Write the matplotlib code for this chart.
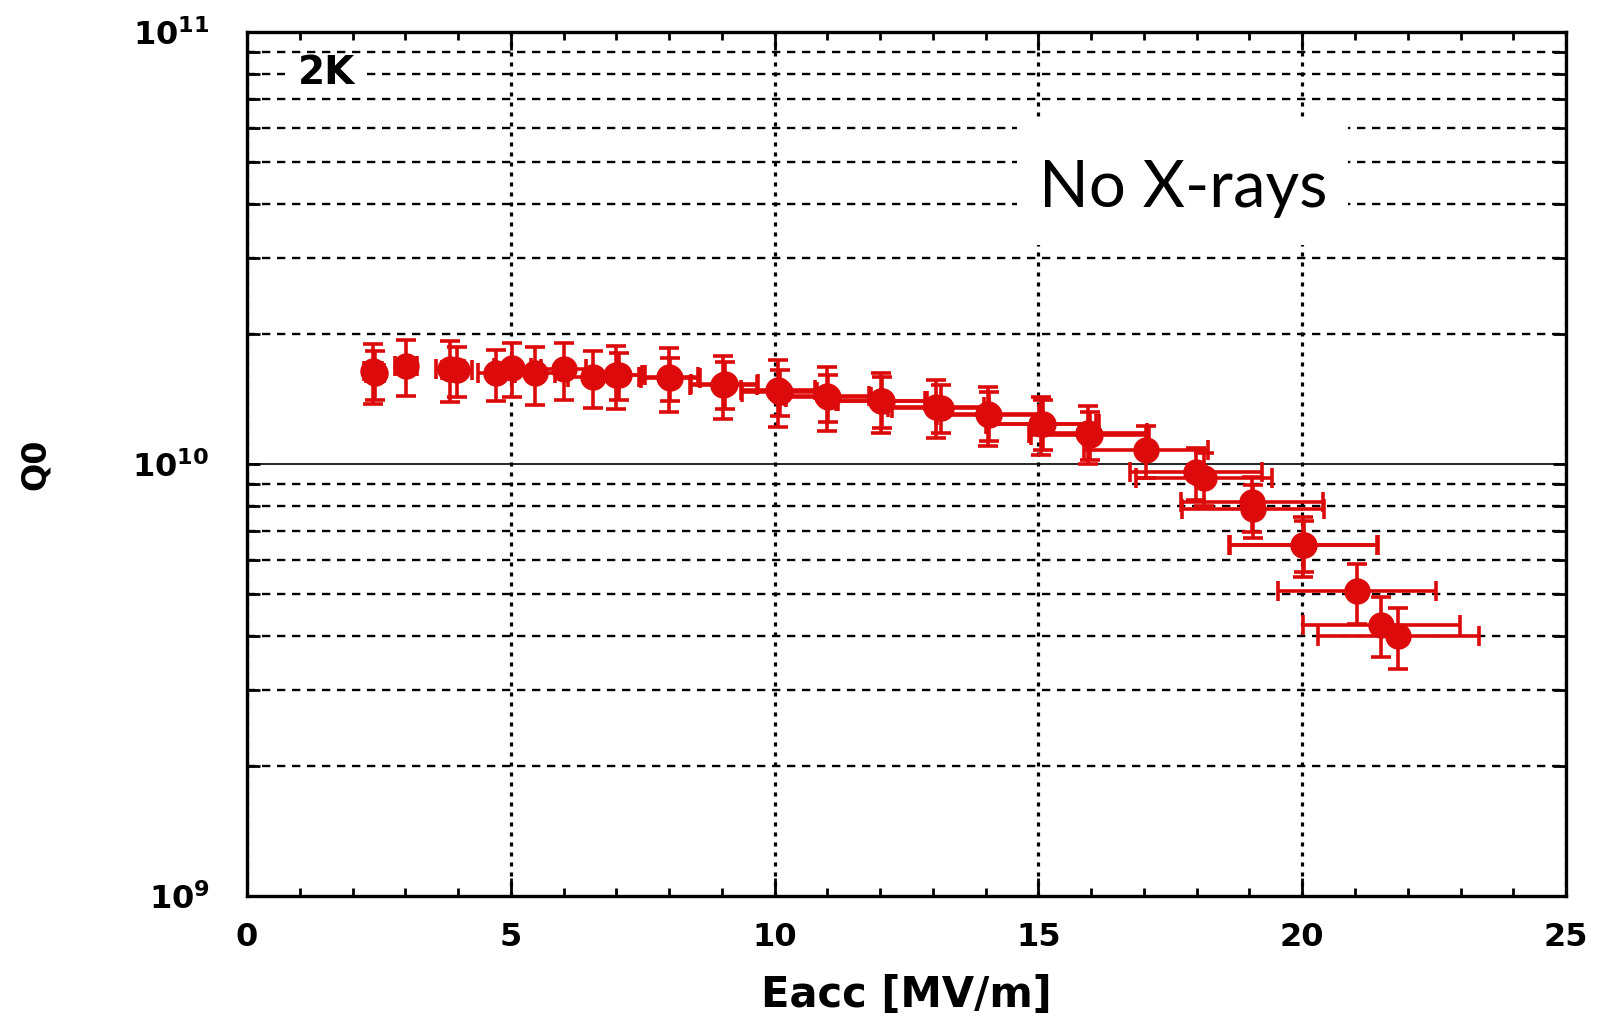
import numpy as np
import matplotlib
matplotlib.use('Agg')
import matplotlib.pyplot as plt
from matplotlib.ticker import FixedLocator, FuncFormatter, NullFormatter, MultipleLocator
from matplotlib.patches import Rectangle

# ---------------- data ----------------
eacc = [2.39, 2.42, 3.02, 3.85, 3.98, 4.71, 5.03, 5.45, 6.00, 6.55,
        7.00, 7.05, 7.99, 8.02, 9.03, 9.05, 10.06, 10.10, 10.99, 11.02,
        12.01, 12.04, 13.05, 13.15, 14.04, 14.06, 15.05, 15.08, 15.94, 15.98,
        17.04, 17.99, 18.14, 19.05, 19.07, 20.02, 20.04, 21.04, 21.50, 21.82]
eacc_err = [0.17, 0.17, 0.21, 0.27, 0.28, 0.33, 0.35, 0.38, 0.42, 0.46,
            0.49, 0.49, 0.56, 0.56, 0.63, 0.63, 0.70, 0.71, 0.80, 0.80,
            0.84, 0.84, 0.91, 0.92, 0.98, 0.98, 1.05, 1.06, 1.12, 1.12,
            1.17, 1.25, 1.29, 1.35, 1.34, 1.40, 1.40, 1.50, 1.49, 1.53]
q0_e10 = [1.64, 1.62, 1.69, 1.66, 1.65, 1.62, 1.67, 1.62, 1.66, 1.59,
          1.61, 1.61, 1.59, 1.58, 1.525, 1.53, 1.48, 1.47, 1.436, 1.43,
          1.40, 1.40, 1.357, 1.35, 1.305, 1.30, 1.24, 1.24, 1.18, 1.17,
          1.076, 0.957, 0.93, 0.815, 0.785, 0.65, 0.65, 0.507, 0.425, 0.40]
q0_err_e10 = [0.26, 0.21, 0.25, 0.27, 0.22, 0.22, 0.24, 0.25, 0.25, 0.24,
              0.27, 0.20, 0.27, 0.18, 0.255, 0.19, 0.26, 0.18, 0.243, 0.18,
              0.22, 0.19, 0.21, 0.17, 0.204, 0.17, 0.19, 0.165, 0.18, 0.15,
              0.15, 0.13, 0.13, 0.118, 0.11, 0.103, 0.087, 0.08, 0.068, 0.065]
q0 = [v * 1e10 for v in q0_e10]
q0_err = [v * 1e10 for v in q0_err_e10]

x_major = [0, 5, 10, 15, 20, 25]
y_major = [1e9, 1e10, 1e11]
y_minor = [m * 1e9 for m in range(2, 10)] + [m * 1e10 for m in range(2, 10)]

RED = '#dc0a0a'

plt.rcParams['lines.scale_dashes'] = False
plt.rcParams['font.family'] = ['DejaVu Sans']
plt.rcParams['font.weight'] = 'bold'

fig = plt.figure(figsize=(15.97, 10.17), dpi=100)
ax = fig.add_axes([0.1547, 0.11898, 0.8259, 0.84955])

ax.errorbar(eacc, q0, yerr=q0_err, xerr=eacc_err, fmt='none', ecolor=RED,
            elinewidth=2.6, capsize=7.0, capthick=2.6, zorder=3)
ax.plot(eacc, q0, 'o', color=RED, ms=19, mew=0, zorder=3.5)

ax.set_xlim(0, 25)
ax.set_yscale('log')
ax.set_ylim(1e9, 1e11)

ax.xaxis.set_major_locator(FixedLocator(x_major))
ax.xaxis.set_minor_locator(MultipleLocator(1))
ax.yaxis.set_major_locator(FixedLocator(y_major))
ax.yaxis.set_minor_locator(FixedLocator(y_minor))
ax.yaxis.set_major_formatter(FuncFormatter(lambda v, p: r'$\mathbf{10^{%d}}$' % int(round(np.log10(v)))))
ax.yaxis.set_minor_formatter(NullFormatter())

ax.grid(which='major', axis='x', color='k', lw=2.3, linestyle=(0, (2.9, 4.3)))
ax.grid(which='minor', axis='y', color='k', lw=1.7, linestyle=(0, (6.0, 4.8)))
ax.grid(which='major', axis='y', color='k', lw=1.2, linestyle='-')

ax.tick_params(axis='x', which='major', direction='in', length=13, width=2,
               top=True, bottom=True, labelsize=23, pad=19)
ax.tick_params(axis='x', which='minor', direction='in', length=6, width=2,
               top=True, bottom=True)
ax.tick_params(axis='y', which='both', direction='in', length=9.5, width=2,
               left=True, right=True)
ax.tick_params(axis='y', which='major', labelsize=23, pad=27)

for s in ax.spines.values():
    s.set_linewidth(2.4)

ax.set_xlabel('Eacc [MV/m]', fontsize=30, fontweight='bold')
ax.xaxis.set_label_coords(0.5, -0.0905)
ax.set_ylabel('Q0', fontsize=24, fontweight='bold')
ax.yaxis.set_label_coords(-0.148, 0.5)

# white boxes behind annotations
ax.add_patch(Rectangle((0.0288, 0.9387), 0.0592, 0.0266, transform=ax.transAxes,
                       facecolor='white', edgecolor='none', zorder=2))
ax.text(0.06, 0.952, '2K', transform=ax.transAxes, ha='center', va='center',
        fontsize=28, fontweight='bold', zorder=4)

ax.add_patch(Rectangle((0.584, 0.7535), 0.251, 0.1435, transform=ax.transAxes,
                       facecolor='white', edgecolor='none', zorder=2))
ax.text(0.7094, 0.7975, 'No X-rays', transform=ax.transAxes, ha='center',
        va='baseline', fontsize=47, fontweight='normal', family=['Lato', 'DejaVu Sans'],
        zorder=4)

fig.savefig('out.png', dpi=100)
